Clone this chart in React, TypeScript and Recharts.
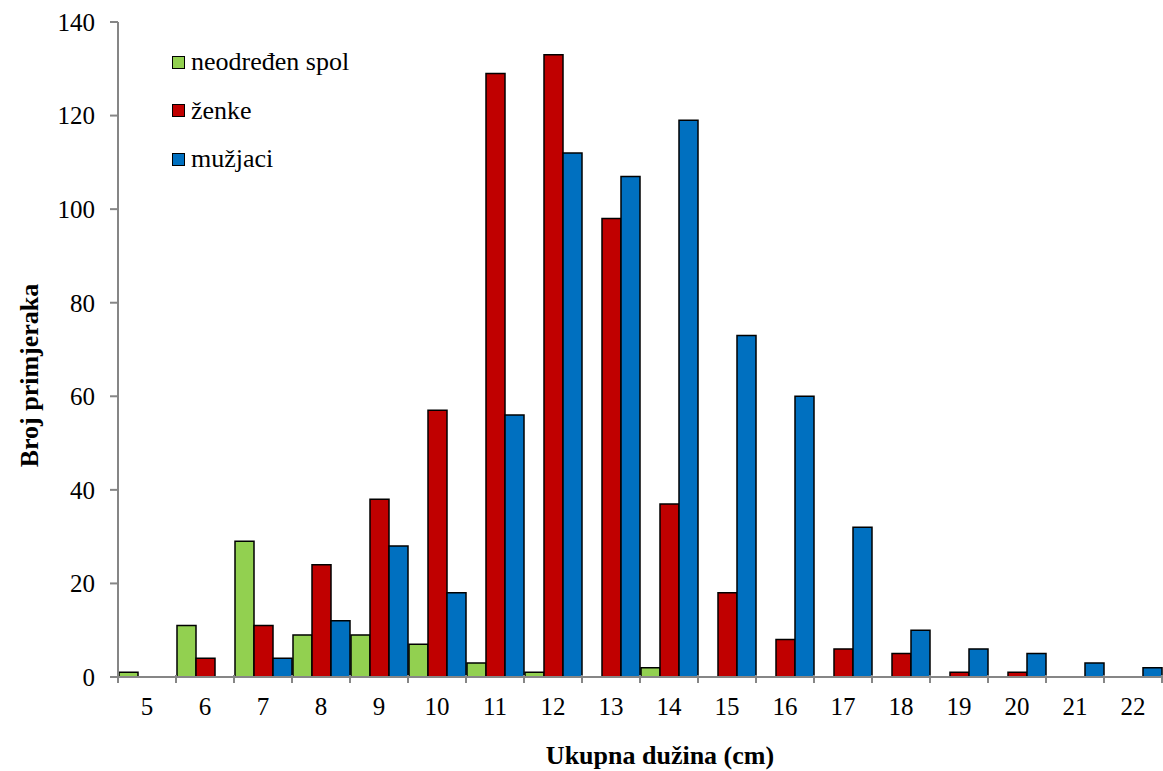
import { BarChart, Bar, XAxis, YAxis } from 'recharts'

const lengths = ['5', '6', '7', '8', '9', '10', '11', '12', '13', '14', '15', '16', '17', '18', '19', '20', '21', '22']
const neodreden = [1, 11, 29, 9, 9, 7, 3, 1, 0, 2, 0, 0, 0, 0, 0, 0, 0, 0]
const zenke = [0, 4, 11, 24, 38, 57, 129, 133, 98, 37, 18, 8, 6, 5, 1, 1, 0, 0]
const muzjaci = [0, 0, 4, 12, 28, 18, 56, 112, 107, 119, 73, 60, 32, 10, 6, 5, 3, 2]
const yTicks = [0, 20, 40, 60, 80, 100, 120, 140]

const series = [
  { key: 'neodredjen', name: 'neodređen spol', color: '#92D050' },
  { key: 'zenke', name: 'ženke', color: '#C00000' },
  { key: 'muzjaci', name: 'mužjaci', color: '#0070C0' },
]

const data = lengths.map((l, i) => ({
  len: l,
  neodredjen: neodreden[i],
  zenke: zenke[i],
  muzjaci: muzjaci[i],
}))

const W = 1163
const H = 771
const LEFT = 118
const RIGHT = 1
const FONT = "Liberation Serif, Tinos, DejaVu Serif, serif"
const AXIS = '#868686'
const HALF_BAND = (W - LEFT - RIGHT) / lengths.length / 2

function XTick(props: any) {
  const { x, y, payload, index } = props
  const top = y - 10
  return (
    <g>
      <line x1={x - HALF_BAND} y1={top} x2={x - HALF_BAND} y2={top + 8} stroke={AXIS} strokeWidth={2} />
      {index === lengths.length - 1 && (
        <line x1={x + HALF_BAND} y1={top} x2={x + HALF_BAND} y2={top + 8} stroke={AXIS} strokeWidth={2} />
      )}
      <text x={x} y={top + 40} textAnchor="middle" style={{ fontFamily: FONT, fontSize: 25 }} fill="#000">
        {payload.value}
      </text>
    </g>
  )
}

function LegendBox() {
  return (
    <div style={{ position: 'absolute', left: 172, top: 38, fontFamily: FONT, fontSize: 26, color: '#000', lineHeight: 1 }}>
      {series.map((s) => (
        <div key={s.key} style={{ display: 'flex', alignItems: 'center', height: 48.5 }}>
          <span
            style={{
              display: 'inline-block',
              width: 11,
              height: 11,
              background: s.color,
              border: '1.5px solid #000',
              marginRight: 6,
            }}
          />
          <span>{s.name}</span>
        </div>
      ))}
    </div>
  )
}

export default function App() {
  return (
    <div style={{ position: 'absolute', left: 0, top: 0, width: W, height: H, background: '#fff', fontFamily: FONT }}>
      <BarChart
        width={W}
        height={H}
        data={data}
        margin={{ top: 22, right: RIGHT, bottom: 0, left: 0 }}
        barCategoryGap={1}
        barGap={0}
        style={{ fontFamily: FONT }}
      >
        <XAxis
          dataKey="len"
          height={94}
          axisLine={{ stroke: AXIS, strokeWidth: 2 }}
          tickLine={false}
          tick={<XTick />}
          interval={0}
          label={{
            value: 'Ukupna dužina (cm)',
            position: 'insideBottom',
            offset: 7,
            dx: 20,
            style: { fontFamily: FONT, fontSize: 26, fontWeight: 'bold', fill: '#000' },
          }}
        />
        <YAxis
          width={LEFT}
          domain={[0, 140]}
          ticks={yTicks}
          interval={0}
          axisLine={{ stroke: AXIS, strokeWidth: 2 }}
          tickLine={{ stroke: AXIS, strokeWidth: 2 }}
          tickSize={8}
          tickMargin={15}
          tick={{ fontFamily: FONT, fontSize: 25, fill: '#000' }}
          label={{
            value: 'Broj primjeraka',
            angle: -90,
            position: 'insideLeft',
            offset: 29,
            dy: 26,
            style: { fontFamily: FONT, fontSize: 26, fontWeight: 'bold', fill: '#000', textAnchor: 'middle' },
          }}
        />
        {series.map((s) => (
          <Bar
            key={s.key}
            dataKey={s.key}
            name={s.name}
            fill={s.color}
            stroke="#000"
            strokeWidth={1.5}
            isAnimationActive={false}
          />
        ))}
      </BarChart>
      <LegendBox />
    </div>
  )
}
